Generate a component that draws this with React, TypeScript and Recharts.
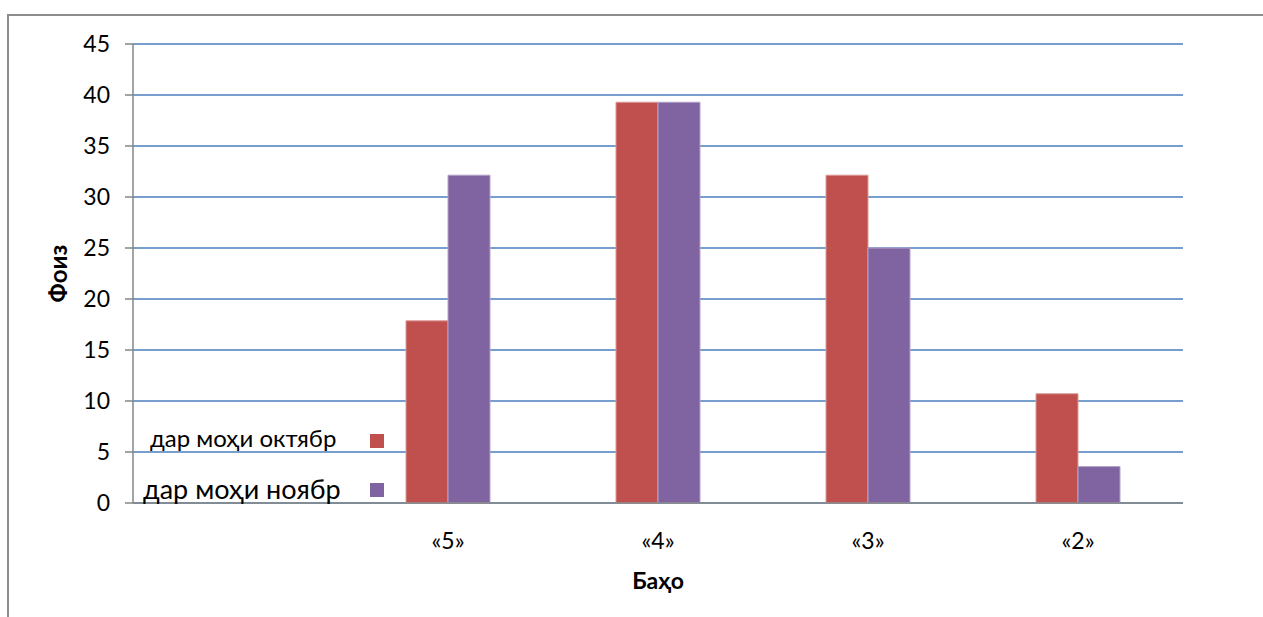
import { BarChart, Bar, XAxis, YAxis, CartesianGrid, Legend } from 'recharts';

// grades on the x axis; the first slot is empty (legend sits there)
const grades = ['', '«5»', '«4»', '«3»', '«2»'];
const october = [null, 17.86, 39.29, 32.14, 10.71];
const november = [null, 32.14, 39.29, 25, 3.57];
const yTicks = [0, 5, 10, 15, 20, 25, 30, 35, 40, 45];
const seriesNames = ['дар моҳи октябр', 'дар моҳи ноябр'];
const seriesColors = ['#C0504D', '#8064A2'];

const data = grades.map((grade, i) => ({ grade, oct: october[i], nov: november[i] }));

const font = "Lato, 'Noto Sans', 'DejaVu Sans', sans-serif";
const axisGray = '#868686';

function YTitle({ viewBox }: any) {
    const cx = viewBox.x + viewBox.width - 76;
    const cy = viewBox.y + viewBox.height / 2;
    return (
        <text x={cx} y={cy} transform={`rotate(-90 ${cx} ${cy})`} textAnchor="middle" dominantBaseline="central"
            fontFamily={font} fontWeight="bold" fontSize={24} fill="#000">
            Фоиз
        </text>
    );
}

function XTitle({ viewBox }: any) {
    const cx = viewBox.x + viewBox.width / 2;
    return (
        <text x={cx} y={viewBox.y + 77} textAnchor="middle" dominantBaseline="central"
            fontFamily={font} fontWeight="bold" fontSize={23} fill="#000">
            Баҳо
        </text>
    );
}

function LegendBox() {
    return (
        <div style={{ position: 'relative', width: 260, height: 90, fontFamily: font, color: '#000' }}>
            <span style={{ position: 'absolute', left: 10, top: 6, fontSize: 24, lineHeight: 1, whiteSpace: 'nowrap' }}>
                {seriesNames[0]}
            </span>
            <span style={{ position: 'absolute', left: 230, top: 14, width: 14, height: 14, background: seriesColors[0] }} />
            <span style={{ position: 'absolute', left: 3, top: 55, fontSize: 27, lineHeight: 1, whiteSpace: 'nowrap' }}>
                {seriesNames[1]}
            </span>
            <span style={{ position: 'absolute', left: 230, top: 63, width: 14, height: 14, background: seriesColors[1] }} />
        </div>
    );
}

export default function App() {
    return (
        <div style={{ position: 'absolute', left: 0, top: 0, width: 1263, height: 617, overflow: 'hidden', background: '#fff' }}>
            <div style={{
                position: 'absolute', left: 7, top: 14, width: 1256, height: 603,
                borderLeft: '2px solid #8c8c8c', borderTop: '2px solid #8c8c8c', boxSizing: 'border-box',
            }} />
            <div style={{ position: 'absolute', left: 0, top: 0 }}>
                <BarChart width={1263} height={617} data={data}
                    margin={{ top: 44, right: 80, bottom: 24, left: 73 }}
                    barCategoryGap="30%" barGap={0}>
                    <CartesianGrid vertical={false} stroke="#4A7EBB" strokeWidth={1.5} />
                    <XAxis dataKey="grade" height={90} tickLine={false}
                        axisLine={{ stroke: axisGray, strokeWidth: 1.5 }}
                        tick={{ fontFamily: font, fontSize: 23, fill: '#000' }} tickMargin={24}
                        label={{ content: XTitle }} />
                    <YAxis width={60} domain={[0, 45]} ticks={yTicks} interval={0}
                        tickSize={8} tickMargin={15}
                        tickLine={{ stroke: axisGray, strokeWidth: 1.5 }}
                        axisLine={{ stroke: axisGray, strokeWidth: 1.5 }}
                        tick={{ fontFamily: font, fontSize: 23, fill: '#000' }}
                        label={{ content: YTitle }} />
                    <Legend layout="horizontal" verticalAlign="middle" align="center"
                        wrapperStyle={{ position: 'absolute', left: 140, top: 420, width: 260, height: 90 }}
                        content={<LegendBox />} />
                    <Bar dataKey="oct" name={seriesNames[0]} fill={seriesColors[0]} stroke="#d99a98" strokeWidth={1} isAnimationActive={false} />
                    <Bar dataKey="nov" name={seriesNames[1]} fill={seriesColors[1]} stroke="#b3a2c8" strokeWidth={1} isAnimationActive={false} />
                </BarChart>
            </div>
        </div>
    );
}
